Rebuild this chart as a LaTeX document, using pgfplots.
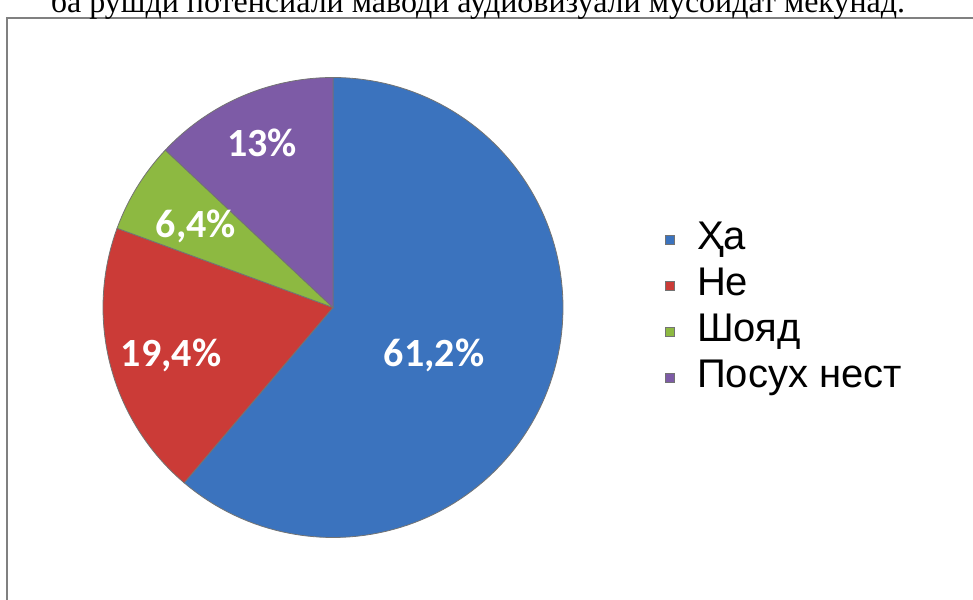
\documentclass[border=0pt]{standalone}
\usepackage{pgfplots}
\pgfplotsset{compat=1.18}
\usepackage{fontspec}
\setmainfont{Liberation Sans}
\newfontfamily\lblfont{Carlito}
\newfontfamily\seriffont{Liberation Serif}

\definecolor{cBlue}{HTML}{3B73BE}
\definecolor{cRed}{HTML}{CB3B37}
\definecolor{cGreen}{HTML}{8DB941}
\definecolor{cPurple}{HTML}{7D5BA6}

% shares in percent
\def\vA{61.2}
\def\vB{19.4}
\def\vC{6.4}
\def\vD{13}
\pgfmathsetmacro\aA{90}
\pgfmathsetmacro\aB{\aA-3.6*\vA}
\pgfmathsetmacro\aC{\aB-3.6*\vB}
\pgfmathsetmacro\aD{\aC-3.6*\vC}
\pgfmathsetmacro\aE{\aD-3.6*\vD}

\begin{document}
\begin{tikzpicture}
\begin{axis}[
    name=ax,
    scale only axis,
    width=973pt, height=599pt,
    xmin=0, xmax=973, ymin=0, ymax=599,
    axis lines=none,
    clip=false,
    legend style={
        at={(axis cs:662,381)}, anchor=north west,
        draw=none, fill=none,
        font=\fontsize{40}{46}\selectfont,
        row sep=8pt,
        nodes={inner sep=0pt, text height=29pt, text depth=9pt},
        column sep=0pt,
    },
    legend cell align=left,
    legend image code/.code={\fill[#1] (3pt,-5pt) rectangle (12pt,4pt);},
]
\draw[gray, line width=2pt] (axis cs:7,-5) |- (axis cs:985,581);
\node[font=\seriffont\fontsize{32}{36}\selectfont, anchor=base] at (axis cs:478,586)
    {ба рушди потенсиали маводи аудиовизуали мусоидат мекунад.};

\addplot[fill=cBlue, draw=black!55, line width=0.8pt, domain=\aB:\aA, samples=120, variable=\t]
    ({333+230*cos(\t)},{291.5+230*sin(\t)}) -- (axis cs:333,291.5) -- cycle;
\addlegendentry{\hspace{22pt}Ҳа}
\addplot[fill=cRed, draw=black!55, line width=0.8pt, domain=\aC:\aB, samples=60, variable=\t]
    ({333+230*cos(\t)},{291.5+230*sin(\t)}) -- (axis cs:333,291.5) -- cycle;
\addlegendentry{\hspace{22pt}Не}
\addplot[fill=cGreen, draw=black!55, line width=0.8pt, domain=\aD:\aC, samples=30, variable=\t]
    ({333+230*cos(\t)},{291.5+230*sin(\t)}) -- (axis cs:333,291.5) -- cycle;
\addlegendentry{\hspace{22pt}Шояд}
\addplot[fill=cPurple, draw=black!55, line width=0.8pt, domain=\aE:\aD, samples=40, variable=\t]
    ({333+230*cos(\t)},{291.5+230*sin(\t)}) -- (axis cs:333,291.5) -- cycle;
\addlegendentry{\hspace{22pt}Посух нест}

\begin{scope}[every node/.style={text=white, font=\lblfont\bfseries\fontsize{40}{44}\selectfont}]
\node at (axis cs:434,244) {61,2\%};
\node at (axis cs:171,244) {19,4\%};
\node at (axis cs:196,373) {6,4\%};
\node at (axis cs:262,456) {13\%};
\end{scope}
\end{axis}
\pgfresetboundingbox
\useasboundingbox (ax.south west) rectangle (ax.north east);
\end{tikzpicture}
\end{document}
